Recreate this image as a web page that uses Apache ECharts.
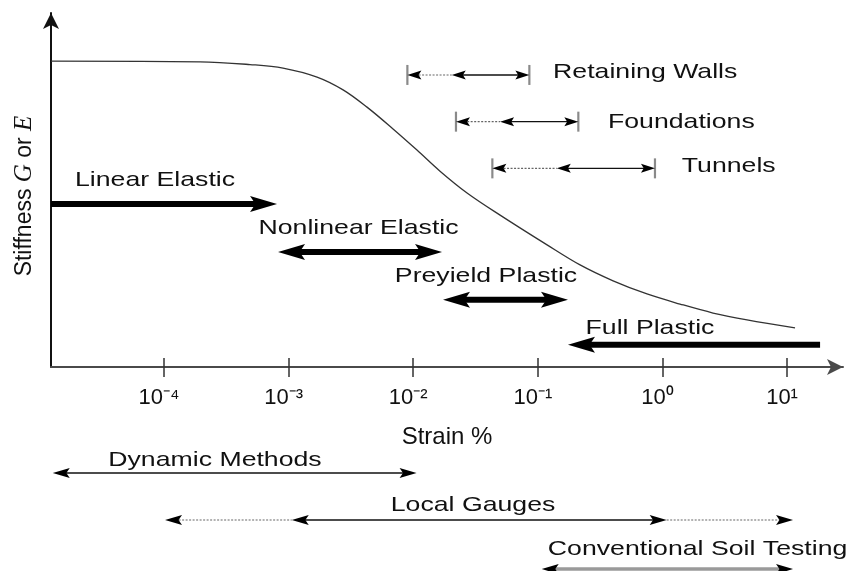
<!DOCTYPE html>
<html>
<head>
<meta charset="utf-8">
<script src="https://cdn.jsdelivr.net/npm/echarts@6/dist/echarts.min.js"></script>
<style>html,body{margin:0;padding:0;background:#fff}#chart{width:851px;height:571px}</style>
</head>
<body>
<div id="chart"></div>
<script>
// ---- Data (x values are log10 of strain %, y values are relative stiffness) ----
const tickExponents = [-4, -3, -2, -1, 0, 1];

const curveStrainLog = [-4.907, -3.711, -3.310, -3.045, -2.772, -2.563, -2.371, -2.162, -1.970, -1.785, -1.568, -1.303, -0.926, -0.661, -0.396, -0.124, 0.141, 0.406, 0.679, 1.064];
const curveStiffness = [88.4, 88.2, 87.4, 86.4, 83.8, 80.1, 75.1, 68.8, 62.7, 56.6, 50.3, 43.9, 35.3, 29.5, 24.9, 21.1, 18.2, 15.6, 13.6, 11.3];

const regimeNames = ['Linear Elastic', 'Nonlinear Elastic', 'Preyield Plastic', 'Full Plastic'];
const regimeStart = [-4.907, -3.085, -1.761, -0.758];
const regimeEnd = [-3.093, -1.769, -0.758, 1.265];
const regimeLevel = [47.1, 33.2, 19.4, 6.4];
const regimeHeads = ['end', 'both', 'both', 'start'];
const regimeLabelX = [-4.072, -2.439, -1.416, -0.100];
const regimeLabelY = [54.0, 40.2, 26.3, 11.3];

const applicationNames = ['Retaining Walls', 'Foundations', 'Tunnels'];
const applicationMin = [-2.047, -1.657, -1.365];
const applicationTypicalMin = [-1.691, -1.303, -0.848];
const applicationMax = [-1.068, -0.675, -0.060];
const applicationLevel = [84.4, 70.9, 57.4];
const applicationLabelX = [-0.878, -0.437, 0.155];
const applicationLabelY = [85.3, 70.7, 58.1];

const methodNames = ['Dynamic Methods', 'Local Gauges', 'Conventional Soil Testing'];
const methodMin = [-4.893, -3.992, -0.969];
const methodCoreMin = [-4.893, -2.975, -0.969];
const methodCoreMax = [-1.973, 0.034, 1.048];
const methodMax = [-1.973, 1.048, 1.048];
const methodLevel = [-30.6, -44.2, -58.4];
const methodLabelX = [-3.591, -1.520, 0.282];
const methodLabelY = [-26.9, -39.9, -52.6];

// ---- Helpers ----
const FONT = "'Liberation Sans', Arial, Helvetica, sans-serif";
const TEXT_COLOR = '#111';
const SUP = { '-': '\u207B', '0': '\u2070', '1': '\u00B9', '2': '\u00B2', '3': '\u00B3', '4': '\u2074' };

function head(tx, ty, dir, L, hw, color) {
  return {
    type: 'polygon',
    shape: { points: [[tx, ty], [tx - dir * L, ty - hw], [tx - dir * L * 0.8, ty], [tx - dir * L, ty + hw]] },
    style: { fill: color || '#000' }
  };
}

function regimeRender(params, api) {
  const a = api.coord([api.value(0), api.value(2)]);
  const b = api.coord([api.value(1), api.value(2)]);
  const code = api.value(3);
  const L = 27, hw = 8, sw = 6;
  const y = a[1];
  let s1 = a[0], s2 = b[0];
  const children = [];
  if (code & 2) { children.push(head(a[0], y, -1, L, hw)); s1 = a[0] + L * 0.75; }
  if (code & 1) { children.push(head(b[0], y, 1, L, hw)); s2 = b[0] - L * 0.75; }
  children.unshift({ type: 'line', shape: { x1: s1, y1: y, x2: s2, y2: y }, style: { stroke: '#000', lineWidth: sw } });
  return { type: 'group', children };
}

function makeRangeRender(opt) {
  return function (params, api) {
    const lv = api.value(4);
    const p0 = api.coord([api.value(0), lv]);
    const p1 = api.coord([api.value(1), lv]);
    const p2 = api.coord([api.value(2), lv]);
    const p3 = api.coord([api.value(3), lv]);
    const y = p0[1];
    const L = opt.headL, hw = opt.headW;
    const children = [];
    if (p1[0] - p0[0] > 1) {
      children.push({ type: 'line', shape: { x1: p0[0] + L * 0.8, y1: y, x2: p1[0], y2: y },
        style: { stroke: '#666', lineWidth: 1.1, lineDash: [2, 1.5] } });
    }
    if (p3[0] - p2[0] > 1) {
      children.push({ type: 'line', shape: { x1: p2[0], y1: y, x2: p3[0] - L * 0.8, y2: y },
        style: { stroke: '#666', lineWidth: 1.1, lineDash: [2, 1.5] } });
    }
    children.push({ type: 'line', shape: { x1: p1[0] + L * 0.7, y1: y, x2: p2[0] - L * 0.7, y2: y },
      style: { stroke: opt.coreColor, lineWidth: opt.coreWidth } });
    if (opt.bars) {
      [p0[0], p3[0]].forEach(function (bx) {
        children.push({ type: 'line', shape: { x1: bx, y1: y - 10, x2: bx, y2: y + 10 },
          style: { stroke: '#8a8a8a', lineWidth: 2.2 } });
      });
    }
    children.push(head(p0[0], y, -1, L, hw));
    if (p1[0] - p0[0] > 1) children.push(head(p1[0], y, -1, L, hw));
    children.push(head(p3[0], y, 1, L, hw));
    if (p3[0] - p2[0] > 1) children.push(head(p2[0], y, 1, L, hw));
    return { type: 'group', children };
  };
}

function makeLabelRender(names, align) {
  return function (params, api) {
    const p = api.coord([api.value(0), api.value(1)]);
    return {
      type: 'text', x: p[0], y: p[1], scaleX: 1.27, scaleY: 1,
      style: { text: names[params.dataIndex], x: 0, y: 0, fontSize: 21, fontFamily: FONT,
        fill: TEXT_COLOR, align: align, verticalAlign: 'middle' }
    };
  };
}

const headCode = { end: 1, start: 2, both: 3 };
const regimeData = regimeStart.map((s, i) => [s, regimeEnd[i], regimeLevel[i], headCode[regimeHeads[i]]]);
const applicationData = applicationMin.map((m, i) => [m, applicationTypicalMin[i], applicationMax[i], applicationMax[i], applicationLevel[i]]);
const methodData = methodMin.map((m, i) => [m, methodCoreMin[i], methodCoreMax[i], methodMax[i], methodLevel[i]]);

const X_MIN = -4.907, X_MAX = 1.449;
const Y_MIN = 0, Y_MAX = 102.3;

const chart = echarts.init(document.getElementById('chart'), null, { renderer: 'canvas' });
chart.setOption({
  animation: false,
  backgroundColor: '#fff',
  grid: { left: 51, right: 8, top: 13, bottom: 204, containLabel: false },
  xAxis: [{
    type: 'value', min: X_MIN, max: X_MAX,
    name: 'Strain %', nameLocation: 'middle', nameGap: 58,
    nameTextStyle: { fontSize: 24, fontFamily: FONT, color: TEXT_COLOR },
    axisLine: { show: true, onZero: false, symbol: ['none', 'arrow'], symbolSize: [12, 16], lineStyle: { color: '#4a4a4a', width: 2 } },
    axisTick: { show: true, length: 10, inside: false, customValues: tickExponents, lineStyle: { color: '#333', width: 1.5 } },
    axisLabel: {
      show: true, margin: 20, customValues: tickExponents,
      formatter: v => '10' + String(v).split('').map(c => SUP[c] || c).join(''),
      fontSize: 22, fontFamily: FONT, color: TEXT_COLOR, padding: [0, 10, 0, 0]
    },
    splitLine: { show: false }
  }, {
    type: 'value', min: X_MIN, max: X_MAX, position: 'bottom',
    axisLine: { show: false, onZero: false },
    axisTick: { show: true, length: 9, inside: true, customValues: tickExponents, lineStyle: { color: '#333', width: 1.5 } },
    axisLabel: { show: false },
    splitLine: { show: false }
  }],
  yAxis: {
    type: 'value', min: Y_MIN, max: Y_MAX,
    name: '{n|Stiffness }{i|G}{n| or }{i|E}', nameLocation: 'middle', nameGap: 14, nameRotate: 90,
    nameTextStyle: {
      fontSize: 23, fontFamily: FONT, color: TEXT_COLOR, padding: [0, 12, 0, 0],
      rich: {
        n: { fontSize: 23, fontFamily: FONT, color: TEXT_COLOR },
        i: { fontSize: 25, fontFamily: "'Liberation Serif', 'DejaVu Serif', serif", fontStyle: 'italic', color: TEXT_COLOR }
      }
    },
    axisLine: { show: true, onZero: false, symbol: ['none', 'arrow'], symbolSize: [12, 16], lineStyle: { color: '#111', width: 2 } },
    axisTick: { show: false }, axisLabel: { show: false }, splitLine: { show: false }
  },
  series: [
    {
      type: 'line', name: 'Stiffness', data: curveStrainLog.map((x, i) => [x, curveStiffness[i]]),
      showSymbol: false, smooth: 0.35, lineStyle: { color: '#333', width: 1.3 }, silent: true
    },
    { type: 'custom', name: 'Regimes', clip: false, renderItem: regimeRender, data: regimeData, silent: true },
    { type: 'custom', name: 'Applications', clip: false,
      renderItem: makeRangeRender({ headL: 14, headW: 4.5, coreColor: '#111', coreWidth: 1.4, bars: true }),
      data: applicationData, silent: true },
    { type: 'custom', name: 'Methods', clip: false,
      renderItem: function (params, api) {
        const isConv = params.dataIndex === 2;
        return makeRangeRender({ headL: 17, headW: 5, coreColor: isConv ? '#9a9a9a' : '#111', coreWidth: isConv ? 3.5 : 1.5, bars: false })(params, api);
      },
      data: methodData, silent: true },
    { type: 'custom', name: 'RegimeLabels', clip: false, renderItem: makeLabelRender(regimeNames, 'center'),
      data: regimeLabelX.map((x, i) => [x, regimeLabelY[i]]), silent: true },
    { type: 'custom', name: 'ApplicationLabels', clip: false, renderItem: makeLabelRender(applicationNames, 'left'),
      data: applicationLabelX.map((x, i) => [x, applicationLabelY[i]]), silent: true },
    { type: 'custom', name: 'MethodLabels', clip: false, renderItem: makeLabelRender(methodNames, 'center'),
      data: methodLabelX.map((x, i) => [x, methodLabelY[i]]), silent: true }
  ]
});
</script>
</body>
</html>
